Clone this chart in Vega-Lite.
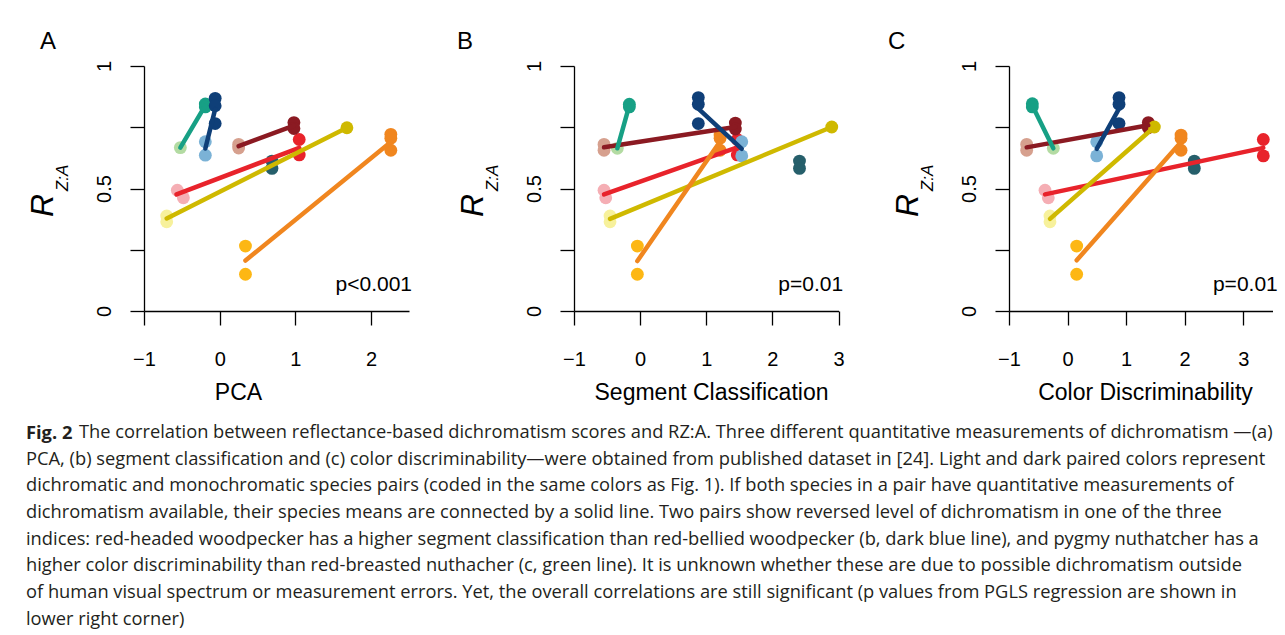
{
  "$schema": "https://vega.github.io/schema/vega-lite/v6.json",
  "background": "white",
  "padding": {"left": 26, "top": 30, "right": 0, "bottom": 0},
  "config": {
    "view": {"stroke": null},
    "font": "Liberation Sans",
    "axis": {"labelFont": "Liberation Sans", "titleFont": "Liberation Sans", "domainColor": "black", "tickColor": "black", "labelColor": "black", "titleColor": "black", "grid": false, "domainWidth": 1.3, "tickWidth": 1.3},
    "title": {"font": "Liberation Sans", "color": "black"}
  },
  "title": {
    "text": [
      "PCA, (b) segment classification and (c) color discriminability—were obtained from published dataset in [24]. Light and dark paired colors represent",
      "dichromatic and monochromatic species pairs (coded in the same colors as Fig. 1). If both species in a pair have quantitative measurements of",
      "dichromatism available, their species means are connected by a solid line. Two pairs show reversed level of dichromatism in one of the three",
      "indices: red-headed woodpecker has a higher segment classification than red-bellied woodpecker (b, dark blue line), and pygmy nuthatcher has a",
      "higher color discriminability than red-breasted nuthacher (c, green line). It is unknown whether these are due to possible dichromatism outside",
      "of human visual spectrum or measurement errors. Yet, the overall correlations are still significant (p values from PGLS regression are shown in",
      "lower right corner)"
    ],
    "orient": "bottom",
    "anchor": "start",
    "frame": "bounds",
    "font": "Open Sans",
    "fontSize": 18.3,
    "fontWeight": "normal",
    "color": "#231f20",
    "lineHeight": 26.7,
    "baseline": "top",
    "offset": 8.4
  },
  "datasets": {
    "pts": [
      {"panel": "A", "sp": "R1", "x": 1.05, "y": 0.7},
      {"panel": "A", "sp": "R1", "x": 1.05, "y": 0.637},
      {"panel": "A", "sp": "R2", "x": -0.56, "y": 0.493},
      {"panel": "A", "sp": "R2", "x": -0.48, "y": 0.462},
      {"panel": "A", "sp": "M2", "x": 0.25, "y": 0.68},
      {"panel": "A", "sp": "M2", "x": 0.25, "y": 0.665},
      {"panel": "A", "sp": "M1", "x": 0.98, "y": 0.769},
      {"panel": "A", "sp": "M1", "x": 0.98, "y": 0.745},
      {"panel": "A", "sp": "Y2", "x": -0.7, "y": 0.388},
      {"panel": "A", "sp": "Y2", "x": -0.7, "y": 0.364},
      {"panel": "A", "sp": "Y1", "x": 1.68, "y": 0.748},
      {"panel": "A", "sp": "O2", "x": 0.34, "y": 0.265},
      {"panel": "A", "sp": "O2", "x": 0.34, "y": 0.15},
      {"panel": "A", "sp": "O1", "x": 2.26, "y": 0.721},
      {"panel": "A", "sp": "O1", "x": 2.26, "y": 0.705},
      {"panel": "A", "sp": "O1", "x": 2.26, "y": 0.656},
      {"panel": "A", "sp": "T1", "x": 0.69, "y": 0.612},
      {"panel": "A", "sp": "T1", "x": 0.69, "y": 0.582},
      {"panel": "A", "sp": "G2", "x": -0.52, "y": 0.667},
      {"panel": "A", "sp": "G1", "x": -0.19, "y": 0.845},
      {"panel": "A", "sp": "G1", "x": -0.19, "y": 0.833},
      {"panel": "A", "sp": "B2", "x": -0.19, "y": 0.691},
      {"panel": "A", "sp": "B2", "x": -0.19, "y": 0.636},
      {"panel": "A", "sp": "B1", "x": -0.06, "y": 0.868},
      {"panel": "A", "sp": "B1", "x": -0.06, "y": 0.838},
      {"panel": "A", "sp": "B1", "x": -0.06, "y": 0.765},

      {"panel": "B", "sp": "R1", "x": 1.47, "y": 0.7},
      {"panel": "B", "sp": "R1", "x": 1.47, "y": 0.637},
      {"panel": "B", "sp": "R2", "x": -0.546, "y": 0.493},
      {"panel": "B", "sp": "R2", "x": -0.52, "y": 0.462},
      {"panel": "B", "sp": "M2", "x": -0.546, "y": 0.68},
      {"panel": "B", "sp": "M2", "x": -0.546, "y": 0.656},
      {"panel": "B", "sp": "M1", "x": 1.44, "y": 0.767},
      {"panel": "B", "sp": "M1", "x": 1.44, "y": 0.743},
      {"panel": "B", "sp": "Y2", "x": -0.455, "y": 0.388},
      {"panel": "B", "sp": "Y2", "x": -0.455, "y": 0.364},
      {"panel": "B", "sp": "Y1", "x": 2.898, "y": 0.751},
      {"panel": "B", "sp": "O2", "x": -0.042, "y": 0.265},
      {"panel": "B", "sp": "O2", "x": -0.042, "y": 0.15},
      {"panel": "B", "sp": "O1", "x": 1.209, "y": 0.718},
      {"panel": "B", "sp": "O1", "x": 1.209, "y": 0.705},
      {"panel": "B", "sp": "O1", "x": 1.209, "y": 0.656},
      {"panel": "B", "sp": "T1", "x": 2.41, "y": 0.612},
      {"panel": "B", "sp": "T1", "x": 2.41, "y": 0.582},
      {"panel": "B", "sp": "G2", "x": -0.345, "y": 0.664},
      {"panel": "B", "sp": "G1", "x": -0.163, "y": 0.844},
      {"panel": "B", "sp": "G1", "x": -0.163, "y": 0.833},
      {"panel": "B", "sp": "B2", "x": 1.537, "y": 0.691},
      {"panel": "B", "sp": "B2", "x": 1.537, "y": 0.633},
      {"panel": "B", "sp": "B1", "x": 0.88, "y": 0.871},
      {"panel": "B", "sp": "B1", "x": 0.88, "y": 0.844},
      {"panel": "B", "sp": "B1", "x": 0.88, "y": 0.765},

      {"panel": "C", "sp": "R1", "x": 3.343, "y": 0.7},
      {"panel": "C", "sp": "R1", "x": 3.343, "y": 0.633},
      {"panel": "C", "sp": "R2", "x": -0.385, "y": 0.493},
      {"panel": "C", "sp": "R2", "x": -0.329, "y": 0.462},
      {"panel": "C", "sp": "M2", "x": -0.698, "y": 0.68},
      {"panel": "C", "sp": "M2", "x": -0.698, "y": 0.656},
      {"panel": "C", "sp": "M1", "x": 1.379, "y": 0.769},
      {"panel": "C", "sp": "M1", "x": 1.379, "y": 0.748},
      {"panel": "C", "sp": "Y2", "x": -0.3, "y": 0.388},
      {"panel": "C", "sp": "Y2", "x": -0.3, "y": 0.364},
      {"panel": "C", "sp": "Y1", "x": 1.482, "y": 0.751},
      {"panel": "C", "sp": "O2", "x": 0.156, "y": 0.265},
      {"panel": "C", "sp": "O2", "x": 0.156, "y": 0.15},
      {"panel": "C", "sp": "O1", "x": 1.938, "y": 0.718},
      {"panel": "C", "sp": "O1", "x": 1.938, "y": 0.705},
      {"panel": "C", "sp": "O1", "x": 1.938, "y": 0.656},
      {"panel": "C", "sp": "T1", "x": 2.165, "y": 0.612},
      {"panel": "C", "sp": "T1", "x": 2.165, "y": 0.582},
      {"panel": "C", "sp": "G2", "x": -0.243, "y": 0.664},
      {"panel": "C", "sp": "G1", "x": -0.602, "y": 0.846},
      {"panel": "C", "sp": "G1", "x": -0.602, "y": 0.833},
      {"panel": "C", "sp": "B2", "x": 0.498, "y": 0.691},
      {"panel": "C", "sp": "B2", "x": 0.498, "y": 0.633},
      {"panel": "C", "sp": "B1", "x": 0.879, "y": 0.871},
      {"panel": "C", "sp": "B1", "x": 0.879, "y": 0.844},
      {"panel": "C", "sp": "B1", "x": 0.879, "y": 0.765}
    ],
    "seg": [
      {"panel": "A", "sp": "R1", "x": -0.57, "y": 0.476}, {"panel": "A", "sp": "R1", "x": 1.05, "y": 0.666},
      {"panel": "A", "sp": "M1", "x": 0.25, "y": 0.673}, {"panel": "A", "sp": "M1", "x": 0.98, "y": 0.757},
      {"panel": "A", "sp": "Y1", "x": -0.7, "y": 0.378}, {"panel": "A", "sp": "Y1", "x": 1.68, "y": 0.748},
      {"panel": "A", "sp": "O1", "x": 0.34, "y": 0.206}, {"panel": "A", "sp": "O1", "x": 2.26, "y": 0.69},
      {"panel": "A", "sp": "G1", "x": -0.52, "y": 0.667}, {"panel": "A", "sp": "G1", "x": -0.19, "y": 0.839},
      {"panel": "A", "sp": "B1", "x": -0.19, "y": 0.663}, {"panel": "A", "sp": "B1", "x": -0.06, "y": 0.824},

      {"panel": "B", "sp": "R1", "x": -0.546, "y": 0.476}, {"panel": "B", "sp": "R1", "x": 1.47, "y": 0.668},
      {"panel": "B", "sp": "M1", "x": -0.546, "y": 0.668}, {"panel": "B", "sp": "M1", "x": 1.44, "y": 0.751},
      {"panel": "B", "sp": "Y1", "x": -0.455, "y": 0.376}, {"panel": "B", "sp": "Y1", "x": 2.898, "y": 0.751},
      {"panel": "B", "sp": "O1", "x": -0.042, "y": 0.204}, {"panel": "B", "sp": "O1", "x": 1.209, "y": 0.692},
      {"panel": "B", "sp": "G1", "x": -0.345, "y": 0.664}, {"panel": "B", "sp": "G1", "x": -0.163, "y": 0.839},
      {"panel": "B", "sp": "B1", "x": 0.88, "y": 0.826}, {"panel": "B", "sp": "B1", "x": 1.537, "y": 0.662},

      {"panel": "C", "sp": "R1", "x": -0.385, "y": 0.476}, {"panel": "C", "sp": "R1", "x": 3.343, "y": 0.666},
      {"panel": "C", "sp": "M1", "x": -0.698, "y": 0.668}, {"panel": "C", "sp": "M1", "x": 1.379, "y": 0.758},
      {"panel": "C", "sp": "Y1", "x": -0.3, "y": 0.376}, {"panel": "C", "sp": "Y1", "x": 1.482, "y": 0.751},
      {"panel": "C", "sp": "O1", "x": 0.156, "y": 0.207}, {"panel": "C", "sp": "O1", "x": 1.938, "y": 0.69},
      {"panel": "C", "sp": "G1", "x": -0.602, "y": 0.839}, {"panel": "C", "sp": "G1", "x": -0.243, "y": 0.664},
      {"panel": "C", "sp": "B1", "x": 0.498, "y": 0.662}, {"panel": "C", "sp": "B1", "x": 0.879, "y": 0.826}
    ],
    "pv": [
      {"panel": "A", "x": 2.54, "y": 0.082, "label": "p<0.001"},
      {"panel": "B", "x": 3.07, "y": 0.082, "label": "p=0.01"},
      {"panel": "C", "x": 3.59, "y": 0.082, "label": "p=0.01"}
    ]
  },
  "vconcat": [
    {
      "title": {"text": "The correlation between reflectance-based dichromatism scores and RZ:A. Three different quantitative measurements of dichromatism —(a)", "orient": "bottom", "anchor": "start", "frame": "bounds", "font": "Open Sans", "fontSize": 18.3, "fontWeight": "normal", "color": "#231f20", "baseline": "top", "dx": 53, "offset": -18.3},
      "vconcat": [
        {
          "spacing": 43,
          "title": {"text": "Fig. 2", "orient": "bottom", "anchor": "start", "frame": "bounds", "font": "Open Sans", "fontSize": 18.3, "fontWeight": "bold", "color": "#231f20", "baseline": "top", "offset": 21},
          "hconcat": [
            {
              "width": 265, "height": 245,
              "title": {"text": "A", "anchor": "start", "frame": "group", "dx": -104, "fontSize": 24, "fontWeight": "normal", "baseline": "alphabetic", "offset": -13},
              "resolve": {"scale": {"y": "independent"}, "axis": {"y": "independent"}},
              "layer": [
                {
                  "data": {"name": "pts"},
                  "transform": [{"filter": "datum.panel === 'A'"}],
                  "mark": {"type": "circle", "size": 165, "opacity": 1},
                  "encoding": {
                    "x": {"field": "x", "type": "quantitative", "scale": {"domain": [-1, 2.5], "nice": false, "zero": false},
                      "axis": {"title": "PCA", "titleFontSize": 23, "titleFontWeight": "normal", "titleY": 88, "titleX": 94, "titleBaseline": "alphabetic", "titleAlign": "center",
                        "values": [-1, -0.5, 0, 0.5, 1, 1.5, 2, 2.5], "labelExpr": "datum.value % 1 === 0 ? format(datum.value, 'd') : ''",
                        "labelBaseline": "alphabetic", "labelPadding": 40, "labelFontSize": 20, "labelFlush": false, "tickSize": 14}},
                    "y": {"field": "y", "type": "quantitative", "scale": {"domain": [0, 1], "nice": false},
                      "axis": {"title": "R", "titleFontSize": 32, "titleFontStyle": "italic", "titleFontWeight": "normal", "titleX": -92, "titleY": 139, "titleAngle": 270, "titleAlign": "center", "titleBaseline": "alphabetic",
                        "values": [0, 0.25, 0.5, 0.75, 1], "labelExpr": "datum.value === 0 ? '0' : datum.value === 0.5 ? '0.5' : datum.value === 1 ? '1' : ''",
                        "labelAngle": 270, "labelAlign": "center", "labelBaseline": "alphabetic", "labelPadding": 20, "labelFontSize": 20, "labelFlush": false, "tickSize": 14}},
                    "color": {"field": "sp", "type": "nominal", "legend": null,
                      "scale": {"domain": ["G1", "G2", "B1", "B2", "M1", "M2", "R1", "R2", "Y1", "Y2", "O1", "O2", "T1"],
                        "range": ["#17a085", "#b3dba2", "#0f3f78", "#7bb2d6", "#8b1a22", "#d6a08e", "#e8232b", "#f5aeb4", "#cfb900", "#f7f19c", "#f0861f", "#fdb714", "#265f6b"]}}
                  }
                },
                {
                  "data": {"name": "seg"},
                  "transform": [{"filter": "datum.panel === 'A'"}],
                  "mark": {"type": "line", "strokeWidth": 4.5, "strokeCap": "round"},
                  "encoding": {
                    "x": {"field": "x", "type": "quantitative"},
                    "y": {"field": "y", "type": "quantitative", "scale": {"domain": [0, 1], "nice": false}, "axis": null},
                    "color": {"field": "sp", "type": "nominal", "legend": null}
                  }
                },
                {
                  "data": {"name": "pv"},
                  "transform": [{"filter": "datum.panel === 'A'"}],
                  "mark": {"type": "text", "align": "right", "baseline": "alphabetic", "fontSize": 21, "color": "black"},
                  "encoding": {
                    "x": {"field": "x", "type": "quantitative"},
                    "y": {"field": "y", "type": "quantitative", "scale": {"domain": [0, 1], "nice": false},
                      "axis": {"orient": "left", "title": "Z:A", "titleFontSize": 17, "titleFontStyle": "italic", "titleFontWeight": "normal", "titleX": -77, "titleY": 111.5, "titleAngle": 270, "titleAlign": "center", "titleBaseline": "alphabetic", "labels": false, "ticks": false, "domain": false}},
                    "text": {"field": "label"}
                  }
                }
              ]
            },
            {
              "width": 264.5, "height": 245,
              "title": {"text": "B", "anchor": "start", "frame": "group", "dx": -117, "fontSize": 24, "fontWeight": "normal", "baseline": "alphabetic", "offset": -13},
              "resolve": {"scale": {"y": "independent"}, "axis": {"y": "independent"}},
              "layer": [
                {
                  "data": {"name": "pts"},
                  "transform": [{"filter": "datum.panel === 'B'"}],
                  "mark": {"type": "circle", "size": 165, "opacity": 1},
                  "encoding": {
                    "x": {"field": "x", "type": "quantitative", "scale": {"domain": [-1, 3], "nice": false, "zero": false},
                      "axis": {"title": "Segment Classification", "titleFontSize": 23, "titleFontWeight": "normal", "titleY": 88, "titleX": 137, "titleBaseline": "alphabetic", "titleAlign": "center",
                        "values": [-1, -0.5, 0, 0.5, 1, 1.5, 2, 2.5, 3], "labelExpr": "datum.value % 1 === 0 ? format(datum.value, 'd') : ''",
                        "labelBaseline": "alphabetic", "labelPadding": 40, "labelFontSize": 20, "labelFlush": false, "tickSize": 14}},
                    "y": {"field": "y", "type": "quantitative", "scale": {"domain": [0, 1], "nice": false},
                      "axis": {"title": "R", "titleFontSize": 32, "titleFontStyle": "italic", "titleFontWeight": "normal", "titleX": -92, "titleY": 139, "titleAngle": 270, "titleAlign": "center", "titleBaseline": "alphabetic",
                        "values": [0, 0.25, 0.5, 0.75, 1], "labelExpr": "datum.value === 0 ? '0' : datum.value === 0.5 ? '0.5' : datum.value === 1 ? '1' : ''",
                        "labelAngle": 270, "labelAlign": "center", "labelBaseline": "alphabetic", "labelPadding": 20, "labelFontSize": 20, "labelFlush": false, "tickSize": 14}},
                    "color": {"field": "sp", "type": "nominal", "legend": null}
                  }
                },
                {
                  "data": {"name": "seg"},
                  "transform": [{"filter": "datum.panel === 'B'"}],
                  "mark": {"type": "line", "strokeWidth": 4.5, "strokeCap": "round"},
                  "encoding": {
                    "x": {"field": "x", "type": "quantitative"},
                    "y": {"field": "y", "type": "quantitative", "scale": {"domain": [0, 1], "nice": false}, "axis": null},
                    "color": {"field": "sp", "type": "nominal", "legend": null}
                  }
                },
                {
                  "data": {"name": "pv"},
                  "transform": [{"filter": "datum.panel === 'B'"}],
                  "mark": {"type": "text", "align": "right", "baseline": "alphabetic", "fontSize": 21, "color": "black"},
                  "encoding": {
                    "x": {"field": "x", "type": "quantitative"},
                    "y": {"field": "y", "type": "quantitative", "scale": {"domain": [0, 1], "nice": false},
                      "axis": {"orient": "left", "title": "Z:A", "titleFontSize": 17, "titleFontStyle": "italic", "titleFontWeight": "normal", "titleX": -77, "titleY": 111.5, "titleAngle": 270, "titleAlign": "center", "titleBaseline": "alphabetic", "labels": false, "ticks": false, "domain": false}},
                    "text": {"field": "label"}
                  }
                }
              ]
            },
            {
              "width": 263.5, "height": 245,
              "title": {"text": "C", "anchor": "start", "frame": "group", "dx": -121, "fontSize": 24, "fontWeight": "normal", "baseline": "alphabetic", "offset": -13},
              "resolve": {"scale": {"y": "independent"}, "axis": {"y": "independent"}},
              "layer": [
                {
                  "data": {"name": "pts"},
                  "transform": [{"filter": "datum.panel === 'C'"}],
                  "mark": {"type": "circle", "size": 165, "opacity": 1},
                  "encoding": {
                    "x": {"field": "x", "type": "quantitative", "scale": {"domain": [-1, 3.5], "nice": false, "zero": false},
                      "axis": {"title": "Color Discriminability", "titleFontSize": 23, "titleFontWeight": "normal", "titleY": 88, "titleX": 136, "titleBaseline": "alphabetic", "titleAlign": "center",
                        "values": [-1, -0.5, 0, 0.5, 1, 1.5, 2, 2.5, 3, 3.5], "labelExpr": "datum.value % 1 === 0 ? format(datum.value, 'd') : ''",
                        "labelBaseline": "alphabetic", "labelPadding": 40, "labelFontSize": 20, "labelFlush": false, "tickSize": 14}},
                    "y": {"field": "y", "type": "quantitative", "scale": {"domain": [0, 1], "nice": false},
                      "axis": {"title": "R", "titleFontSize": 32, "titleFontStyle": "italic", "titleFontWeight": "normal", "titleX": -92, "titleY": 139, "titleAngle": 270, "titleAlign": "center", "titleBaseline": "alphabetic",
                        "values": [0, 0.25, 0.5, 0.75, 1], "labelExpr": "datum.value === 0 ? '0' : datum.value === 0.5 ? '0.5' : datum.value === 1 ? '1' : ''",
                        "labelAngle": 270, "labelAlign": "center", "labelBaseline": "alphabetic", "labelPadding": 20, "labelFontSize": 20, "labelFlush": false, "tickSize": 14}},
                    "color": {"field": "sp", "type": "nominal", "legend": null}
                  }
                },
                {
                  "data": {"name": "seg"},
                  "transform": [{"filter": "datum.panel === 'C'"}],
                  "mark": {"type": "line", "strokeWidth": 4.5, "strokeCap": "round"},
                  "encoding": {
                    "x": {"field": "x", "type": "quantitative"},
                    "y": {"field": "y", "type": "quantitative", "scale": {"domain": [0, 1], "nice": false}, "axis": null},
                    "color": {"field": "sp", "type": "nominal", "legend": null}
                  }
                },
                {
                  "data": {"name": "pv"},
                  "transform": [{"filter": "datum.panel === 'C'"}],
                  "mark": {"type": "text", "align": "right", "baseline": "alphabetic", "fontSize": 21, "color": "black"},
                  "encoding": {
                    "x": {"field": "x", "type": "quantitative"},
                    "y": {"field": "y", "type": "quantitative", "scale": {"domain": [0, 1], "nice": false},
                      "axis": {"orient": "left", "title": "Z:A", "titleFontSize": 17, "titleFontStyle": "italic", "titleFontWeight": "normal", "titleX": -77, "titleY": 111.5, "titleAngle": 270, "titleAlign": "center", "titleBaseline": "alphabetic", "labels": false, "ticks": false, "domain": false}},
                    "text": {"field": "label"}
                  }
                }
              ]
            }
          ]
        }
      ]
    }
  ]
}
